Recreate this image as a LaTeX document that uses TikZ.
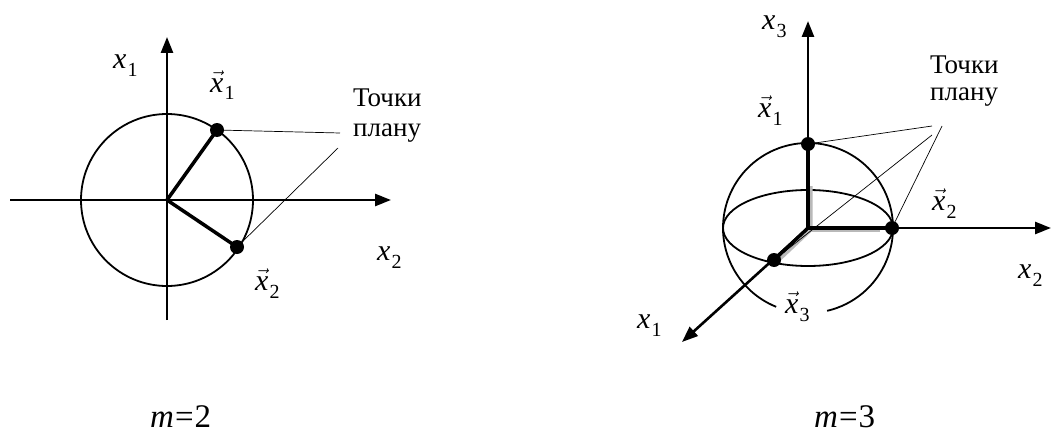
\documentclass[tikz,border=0pt]{standalone}
\usepackage{fontspec}
\setmainfont{LiberationSerif}[Extension=.ttf,UprightFont=*-Regular,ItalicFont=*-Italic,BoldFont=*-Bold,BoldItalicFont=*-BoldItalic]
\usetikzlibrary{arrows.meta}
\newcommand\axl[1]{\textit{x}\kern1pt\raisebox{-8pt}{\fontsize{20}{20}\selectfont #1}}
\newcommand\vxl[1]{$\vec{\mbox{\itshape x}}$\kern1pt\raisebox{-8pt}{\fontsize{20}{20}\selectfont #1}}
\begin{document}
\begin{tikzpicture}[x=1pt,y=-1pt,
 axis/.style={line width=2.6pt,-{Triangle[length=16pt,width=12pt]}},
 vecline/.style={line width=3.5pt},
 ball/.style={circle,fill=black,minimum size=14pt,inner sep=0pt},
 leader/.style={line width=0.7pt},
 sph/.style={line width=1.8pt},
 shadow/.style={line width=3pt,gray!55},
 lbl/.style={anchor=base west,inner sep=0pt,font=\fontsize{30}{30}\selectfont},
 note/.style={anchor=base west,inner sep=0pt,align=left},
 mlabel/.style={anchor=base west,inner sep=0pt,text depth=0pt,font=\fontsize{33}{33}\selectfont}]
\useasboundingbox (0,0) rectangle (1051,436);
% ---------- left: m=2 ----------
\coordinate (O1) at (167,200);
\coordinate (h1s) at (10,200);
\coordinate (h1e) at (391,200);
\coordinate (v1s) at (167,320);
\coordinate (v1e) at (167,37);
\coordinate (c1) at (217,130);
\coordinate (c2) at (237,247);
\draw[axis] (h1s) -- (h1e);
\draw[axis] (v1s) -- (v1e);
\draw[sph] (O1) circle[radius=86];
\draw[vecline] (O1) -- (c1);
\draw[vecline] (O1) -- (c2);
\node[ball] (p1) at (c1) {};
\node[ball] (p2) at (c2) {};
\coordinate (t1a) at (340,133);
\coordinate (t1b) at (338,148);
\draw[leader] (p1) -- (t1a);
\draw[leader] (p2) -- (t1b);
\node[note,font=\fontsize{27}{30}\selectfont] (tp1) at (353,136) {Точки\\плану};
\node[lbl] (lx1) at (113,68) {\axl{1}};
\node[lbl] (lx2) at (377,260) {\axl{2}};
\node[lbl] (lv1) at (210,92) {\vxl{1}};
\node[lbl] (lv2) at (255,290) {\vxl{2}};
\node[mlabel] (m2) at (150,427) {\textit{m}\kern1pt=\kern1pt2};
% ---------- right: m=3 ----------
\coordinate (O2) at (808,228);
\coordinate (z2e) at (808,21);
\coordinate (y2s) at (806,228);
\coordinate (y2e) at (1051,228);
\coordinate (x2e) at (682,342);
\coordinate (d1) at (808,144);
\coordinate (d2) at (892,228);
\coordinate (d3) at (774,260);
\draw[axis] (O2) -- (z2e);
\draw[axis] (y2s) -- (y2e);
\draw[axis] (O2) -- (x2e);
\draw[sph] (O2) ++(112:85) arc[start angle=112, end angle=437, radius=85];
\draw[sph] (O2) ellipse[x radius=85, y radius=38];
\draw[shadow] (811,186) -- (811,230) -- (777,262);
\draw[shadow] (811,230) -- (880,230);
\draw[vecline] (O2) -- (d1);
\draw[vecline] (O2) -- (d2);
\draw[vecline] (O2) -- (d3);
\node[ball] (q1) at (d1) {};
\node[ball] (q2) at (d2) {};
\node[ball] (q3) at (d3) {};
\coordinate (t2a) at (932,126);
\coordinate (t2b) at (932,135);
\coordinate (t2c) at (942,126);
\draw[leader] (q1) -- (t2a);
\draw[leader] (q3) -- (t2b);
\draw[leader] (q2) -- (t2c);
\node[note,font=\fontsize{27}{27}\selectfont] (tp2) at (930,100) {Точки\\плану};
\node[lbl] (rx3) at (762,30) {\axl{3}};
\node[lbl] (rx2) at (1018,278) {\axl{2}};
\node[lbl] (rx1) at (637,328) {\axl{1}};
\node[lbl] (rv1) at (758,117) {\vxl{1}};
\node[lbl] (rv2) at (932,210) {\vxl{2}};
\node[lbl] (rv3) at (785,313) {\vxl{3}};
\node[mlabel] (m3) at (814,427) {\textit{m}\kern1pt=\kern1pt3};
\end{tikzpicture}
\end{document}
